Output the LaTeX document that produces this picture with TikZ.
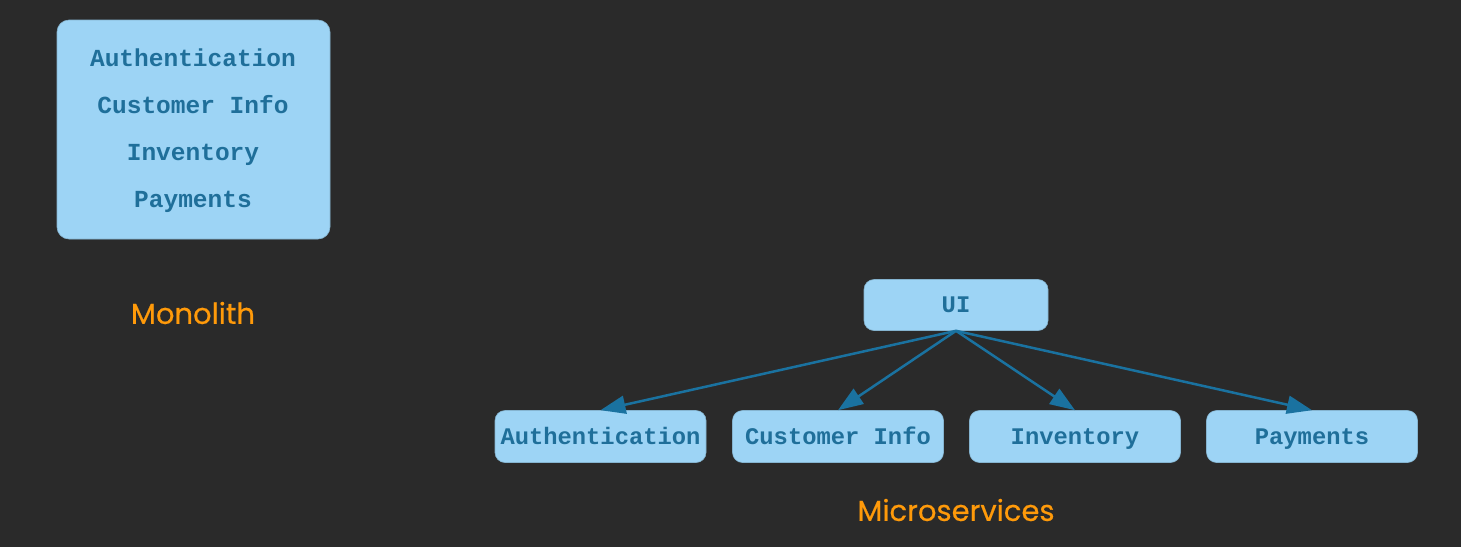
\documentclass[tikz,border=0pt]{standalone}
\usepackage{fontspec}
\setmonofont{Liberation Mono}
\setsansfont{Poppins}
\newfontfamily\captionfont[FakeBold=0.5]{Poppins}
\usetikzlibrary{arrows.meta}
\definecolor{bgdark}{HTML}{2A2A2A}
\definecolor{boxblue}{HTML}{9DD4F5}
\definecolor{txtblue}{HTML}{1F6F9A}
\definecolor{arrblue}{HTML}{1A72A0}
\definecolor{lblorange}{HTML}{FF9A0A}
\tikzset{
	svc/.style={fill=boxblue, draw=boxblue!85!black, line width=0.6pt, rounded corners=10pt,
		minimum width=211pt, minimum height=52pt, inner sep=0pt, text height=15pt, text depth=0pt,
		text=txtblue, font=\ttfamily\bfseries\fontsize{23.8}{28}\selectfont},
	item/.style={text=txtblue, inner sep=0pt, text height=15pt, text depth=0pt,
		font=\ttfamily\bfseries\fontsize{24.5}{28}\selectfont},
	caption/.style={text=lblorange, inner sep=0pt, font=\captionfont\fontsize{29}{34}\selectfont},
	link/.style={arrblue, line width=2.5pt, -{Triangle[length=25pt,width=18pt]}}
}
\begin{document}
\begin{tikzpicture}[x=1pt,y=-1pt]
	\fill[bgdark] (0,0) rectangle (1461,547);
	\useasboundingbox (0,0) rectangle (1461,547);

	% monolith
	\node[svc, minimum width=273pt, minimum height=219pt, rounded corners=12pt] (mono) at (193.5,129.5) {};
	\node[item] (mauth) at (193,59) {Authentication};
	\node[item] (mcust) at (193,106) {Customer Info};
	\node[item] (minv) at (193,153) {Inventory};
	\node[item] (mpay) at (193,200) {Payments};
	\node[caption] (monolabel) at (193,313) {Monolith};

	% microservices
	\node[svc, minimum width=184pt, minimum height=51pt] (ui) at (956,305) {UI};
	\node[svc] (auth) at (600.5,436.5) {Authentication};
	\node[svc] (cust) at (838,436.5) {Customer Info};
	\node[svc] (inv) at (1075,436.5) {Inventory};
	\node[svc] (pay) at (1312,436.5) {Payments};
	\node[caption] (microlabel) at (956,510) {Microservices};

	\foreach \s in {auth,cust,inv,pay}
		\draw[link] (ui.south) -- (\s.north);
\end{tikzpicture}
\end{document}
